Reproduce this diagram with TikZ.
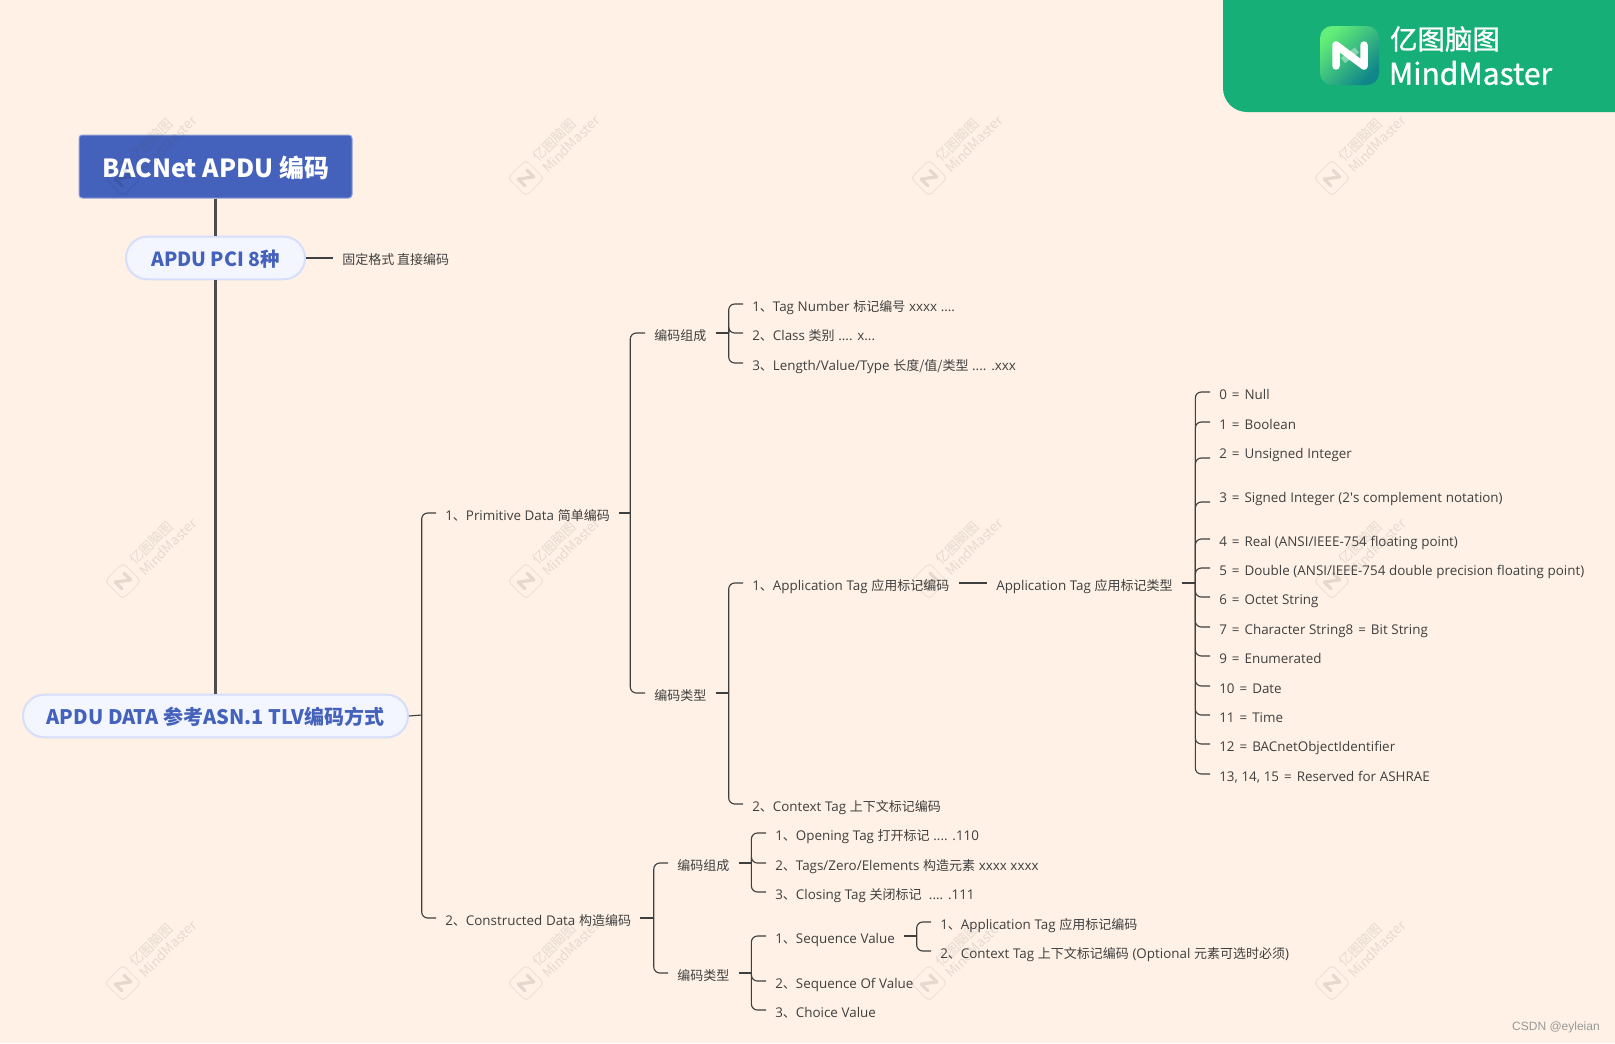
\documentclass[tikz,border=0pt]{standalone}
\usepackage{fontspec}
\setmainfont{Open Sans}[WordSpace=1.05]
\newfontfamily\cjk{Noto Sans CJK SC}
\newfontfamily\cjksmall[Scale=0.97]{Noto Sans CJK SC}
\newfontfamily\cjkmed[FakeBold=1]{Noto Sans CJK SC}
\newfontfamily\cornerfont{Liberation Sans}
\newcommand\cn[1]{{\cjksmall #1}}
\newcommand\eq{\hspace{1pt}=\hspace{1pt}}
\definecolor{paper}{HTML}{FFF1E6}
\definecolor{rootblue}{HTML}{4461BB}
\definecolor{pillfill}{HTML}{F4F6FF}
\definecolor{pillline}{HTML}{D5DEFB}
\definecolor{inkline}{HTML}{3F3F3F}
\definecolor{spineink}{HTML}{4D4D4D}
\definecolor{banner}{HTML}{16AF78}
\definecolor{logolight}{HTML}{62EE78}
\definecolor{logodark}{HTML}{10858A}
\tikzset{
    %Define style for the root and the two pills
    root/.style={
           rectangle,
           rounded corners=2.5pt,
           draw=rootblue!60!white, fill=rootblue,
           line width=.75pt,
           inner sep=0pt,
           minimum width=204.75pt,
           minimum height=47.25pt,
           text height=16pt, text depth=0pt,
           text=white,
           font=\fontsize{18.7}{22}\selectfont\bfseries\cjk},
    pill/.style={
           rectangle,
           rounded corners=16pt,
           draw=pillline, fill=pillfill,
           line width=1.5pt,
           inner sep=0pt,
           minimum height=32pt,
           text height=13pt, text depth=0pt,
           text=rootblue,
           font=\fontsize{15}{18}\selectfont\bfseries\cjk},
    %Define style for plain labels, west end is where the line stops
    item/.style={
           anchor=west,
           inner xsep=6.75pt, inner ysep=0pt,
           text height=11.5pt, text depth=0pt,
           text=inkline,
           font=\fontsize{10.05}{12}\selectfont},
    itemtall/.style={item, text depth=10.5pt},
    %Define style for connectors
    link/.style={draw=inkline, line width=.85pt},
    spine/.style={draw=spineink, line width=1.8pt},
    elbow/.style={rounded corners=4.5pt,
           to path={(\tikztostart) |- (\tikztotarget.west)}},
    %Define the logo
    nlogo/.pic={
       \draw[pic actions,line join=round,line cap=round]
          (-14,10.5) -- (-14,-10.5) -- (14,10.5) -- (14,-10.5);},
    wmtext/.style={
           rotate=45, inner sep=0pt,
           text=black!70, opacity=.14,
           font=\fontsize{10.2}{12}\selectfont\cjk}
}
\begin{document}
\begin{tikzpicture}[x=.75pt,y=-.75pt]
\useasboundingbox (0,0) rectangle (1615,1043);
\fill[paper] (0,0) rectangle (1615,1043);

 %banner
\fill[banner] (1223,0) [rounded corners=18pt] -- (1223,112) [sharp corners] -- (1615,112) -- (1615,0) -- cycle;
\shade[rounded corners=9pt,left color=logolight,right color=logodark,shading angle=45]
  (1320,26) rectangle (1379,85);
\draw[white,opacity=.4,line width=5pt] (1343,60.5) -- (1357,50);
\pic[draw=white,line width=5.6pt] at (1350,55.5) {nlogo};
\node[text=white,inner sep=0pt,font=\fontsize{20.6}{24}\selectfont\cjkmed] (brandcn) at (1445,39) {亿图脑图};
\node[text=white,inner sep=0pt,font=\fontsize{22.5}{26}\selectfont\cjkmed] (branden) at (1470.5,73) {MindMaster};

 %nodes
\node[root] (title) at (215.5,166.5) {BACNet APDU 编码};
\node[pill,minimum width=134.25pt,font=\fontsize{14.6}{18}\selectfont\bfseries\cjk] (pci) at (215.5,258) {APDU PCI 8种};
\node[pill,minimum width=288.75pt] (data) at (215.5,716) {APDU DATA 参考ASN.1 TLV编码方式};
\node[item] (fixed) at (333,257) {\cn{固定格式 直接编码}};

\node[item] (prim) at (436,513) {1\cn{、}Primitive Data \cn{简单编码}};
\node[item] (constr) at (436,918) {2\cn{、}Constructed Data \cn{构造编码}};

\node[item] (compa) at (645,333) {\cn{编码组成}};
\node[item] (typea) at (645,693) {\cn{编码类型}};
\node[item] (compa1) at (743,304) {1\cn{、}Tag Number \cn{标记编号} xxxx ....};
\node[item] (compa2) at (743,333) {2\cn{、}Class \cn{类别} .... x...};
\node[item] (compa3) at (743,363) {3\cn{、}Length/Value/Type \cn{长度/值/类型} .... .xxx};
\node[item] (app) at (743,583) {1\cn{、}Application Tag \cn{应用标记编码}};
\node[item] (ctx) at (743,804) {2\cn{、}Context Tag \cn{上下文标记编码}};
\node[item] (apptype) at (987,583) {Application Tag \cn{应用标记类型}};

\node[item] (compb) at (668,863) {\cn{编码组成}};
\node[item] (typeb) at (668,973) {\cn{编码类型}};
\node[item] (compb1) at (766,833) {1\cn{、}Opening Tag \cn{打开标记} .... .110};
\node[item] (compb2) at (766,863) {2\cn{、}Tags/Zero/Elements \cn{构造元素} xxxx xxxx};
\node[item] (compb3) at (766,892) {3\cn{、}Closing Tag \cn{关闭标记}\ \ .... .111};
\node[item] (seq) at (766,936) {1\cn{、}Sequence Value};
\node[item] (seqof) at (766,981) {2\cn{、}Sequence Of Value};
\node[item] (choice) at (766,1010) {3\cn{、}Choice Value};
\node[item] (seq1) at (931,922) {1\cn{、}Application Tag \cn{应用标记编码}};
\node[item] (seq2) at (931,951) {2\cn{、}Context Tag \cn{上下文标记编码} (Optional \cn{元素可选时必须})};

 %trunks
\coordinate (tdata) at (421.7,715);
\coordinate (tprim) at (630.3,513);
\coordinate (tcompa) at (728.7,333);
\coordinate (ttypea) at (728.7,693);
\coordinate (tapp) at (1195.3,583);
\coordinate (tconstr) at (653.8,918);
\coordinate (tcompb) at (751.4,863);
\coordinate (ttypeb) at (751.4,973);
\coordinate (tseq) at (916.7,936);

 %tag list
\foreach \y/\st/\lab [count=\i] in {
    392/item/{0 \eq{} Null},
    422/item/{1 \eq{} Boolean},
    458/itemtall/{2 \eq{} Unsigned Integer},
    502/itemtall/{3 \eq{} Signed Integer (2\textquotesingle s complement notation)},
    539/item/{4 \eq{} Real (ANSI/IEEE-754 floating point)},
    568/item/{5 \eq{} Double (ANSI/IEEE-754 double precision floating point)},
    597/item/{6 \eq{} Octet String},
    627/item/{7 \eq{} Character String8 \eq{} Bit String},
    656/item/{9 \eq{} Enumerated},
    686/item/{10 \eq{} Date},
    715/item/{11 \eq{} Time},
    744/item/{12 \eq{} BACnetObjectIdentifier},
    774/item/{13, 14, 15 \eq{} Reserved for ASHRAE}}{
  \node[\st] (tag\i) at (1210,\y) {\lab};
  \path[link] (tapp) edge[elbow] (tag\i);
}

 %connectors
\draw[spine] (title) -- (pci) -- (data);
\draw[link] (pci.east) -- (fixed.west |- pci.east);
\draw[link] (data.east) -- (tdata);
\draw[link] (prim.east) -- (tprim);
\draw[link] (compa.east) -- (tcompa);
\draw[link] (typea.east) -- (ttypea);
\draw[link] (app.east) -- (apptype.west);
\draw[link] (apptype.east) -- (tapp);
\draw[link] (constr.east) -- (tconstr);
\draw[link] (compb.east) -- (tcompb);
\draw[link] (typeb.east) -- (ttypeb);
\draw[link] (seq.east) -- (tseq);
\path[link]
    (tdata) edge[elbow] (prim) edge[elbow] (constr)
    (tprim) edge[elbow] (compa) edge[elbow] (typea)
    (tcompa) edge[elbow] (compa1) edge[elbow] (compa2) edge[elbow] (compa3)
    (ttypea) edge[elbow] (app) edge[elbow] (ctx)
    (tconstr) edge[elbow] (compb) edge[elbow] (typeb)
    (tcompb) edge[elbow] (compb1) edge[elbow] (compb2) edge[elbow] (compb3)
    (ttypeb) edge[elbow] (seq) edge[elbow] (seqof) edge[elbow] (choice)
    (tseq) edge[elbow] (seq1) edge[elbow] (seq2);

 %watermarks
\foreach \wx in {123,526,929,1332}
  \foreach \wy in {178,581,983}{
    \draw[draw=black,opacity=.07,line width=.75pt,rounded corners=3pt]
      (\wx-18,\wy) -- (\wx,\wy-18) -- (\wx+18,\wy) -- (\wx,\wy+18) -- cycle;
    \pic[draw=black,opacity=.1,line width=2.4pt,rotate=45,scale=.45] at (\wx,\wy) {nlogo};
    \node[wmtext] (wmcn\wx\wy) at (\wx+28,\wy-38) {亿图脑图};
    \node[wmtext] (wmen\wx\wy) at (\wx+45,\wy-34) {MindMaster};
  }

\node[text=black!40,inner sep=0pt,anchor=east,font=\fontsize{9}{11}\selectfont\cornerfont] (csdn) at (1600,1027) {CSDN @eyleian};
\end{tikzpicture}
\end{document}
